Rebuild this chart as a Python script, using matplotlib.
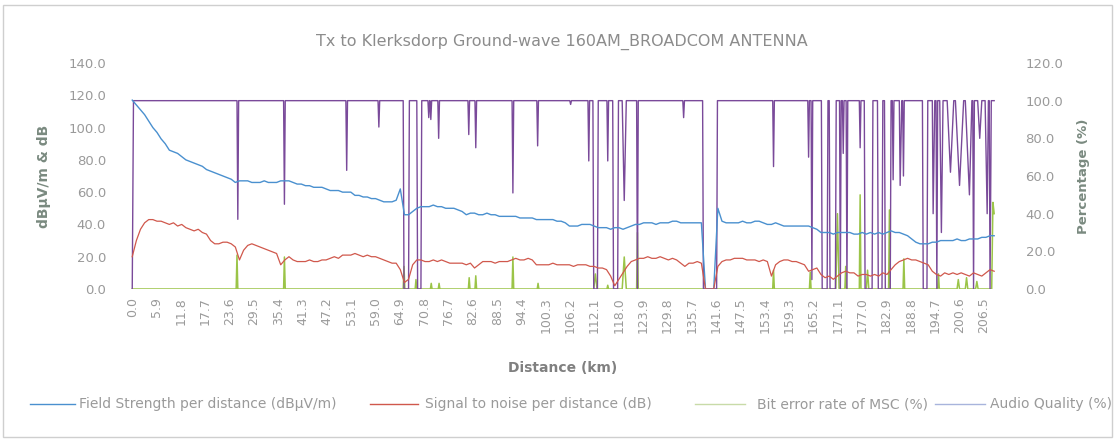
import numpy as np
import matplotlib
matplotlib.use("Agg")
import matplotlib.pyplot as plt
from matplotlib.lines import Line2D
from matplotlib.patches import Rectangle

# ---------------- data ----------------
title = "Tx to Klerksdorp Ground-wave 160AM_BROADCOM ANTENNA"

distance_km = list(range(0, 210))

field_strength = [
    117, 114, 111, 108, 104, 100, 97, 93, 90, 86,
    85, 84, 82, 80, 79, 78, 77, 76, 74, 73,
    72, 71, 70, 69, 68, 66, 67, 67, 67, 66,
    66, 66, 67, 66, 66, 66, 67, 67, 67, 66,
    65, 65, 64, 64, 63, 63, 63, 62, 61, 61,
    61, 60, 60, 60, 58, 58, 57, 57, 56, 56,
    55, 54, 54, 54, 55, 62, 46, 46, 48, 50,
    51, 51, 51, 52, 51, 51, 50, 50, 50, 49,
    48, 46, 47, 47, 46, 46, 47, 46, 46, 45,
    45, 45, 45, 45, 44, 44, 44, 44, 43, 43,
    43, 43, 43, 42, 42, 41, 39, 39, 39, 40,
    40, 40, 39, 38, 38, 38, 37, 38, 38, 37,
    38, 39, 40, 40, 41, 41, 41, 40, 41, 41,
    41, 42, 42, 41, 41, 41, 41, 41, 41, 0,
    0, 0, 50, 42, 41, 41, 41, 41, 42, 41,
    41, 42, 42, 41, 40, 40, 41, 40, 39, 39,
    39, 39, 39, 39, 39, 38, 37, 35, 35, 35,
    34, 35, 35, 35, 35, 34, 34, 35, 34, 35,
    34, 35, 34, 35, 36, 35, 35, 34, 33, 31,
    29, 28, 28, 28, 29, 29, 30, 30, 30, 30,
    31, 30, 30, 31, 31, 31, 32, 32, 33, 33,
]

signal_to_noise = [
    20, 30, 37, 41, 43, 43, 42, 42, 41, 40,
    41, 39, 40, 38, 37, 36, 37, 35, 34, 30,
    28, 28, 29, 29, 28, 26, 18, 24, 27, 28,
    27, 26, 25, 24, 23, 22, 15, 18, 20, 18,
    17, 17, 17, 18, 17, 17, 18, 18, 19, 20,
    19, 21, 21, 21, 22, 21, 20, 21, 20, 20,
    19, 18, 17, 16, 16, 12, 4, 6, 15, 18,
    18, 17, 17, 18, 17, 18, 17, 16, 16, 16,
    16, 15, 16, 13, 15, 17, 17, 17, 16, 17,
    17, 17, 18, 19, 18, 18, 19, 18, 15, 15,
    15, 15, 16, 15, 15, 15, 15, 14, 15, 15,
    15, 14, 14, 13, 13, 12, 8, 2, 6, 10,
    14, 17, 18, 19, 19, 20, 19, 19, 20, 19,
    18, 19, 18, 16, 14, 16, 16, 17, 16, 0,
    0, 0, 14, 17, 18, 18, 19, 19, 19, 18,
    18, 18, 17, 18, 17, 8, 15, 17, 18, 18,
    17, 17, 16, 15, 11, 12, 13, 9, 7, 8,
    6, 8, 10, 11, 10, 10, 8, 9, 9, 8,
    9, 8, 10, 9, 12, 15, 17, 18, 19, 18,
    18, 17, 16, 15, 11, 9, 8, 10, 9, 10,
    9, 10, 9, 8, 10, 9, 8, 10, 12, 11,
]

ber_km = [
    0.0, 25.2, 25.4, 25.6, 36.7, 36.9, 37.1, 65.7, 65.9, 66.1,
    68.6, 68.8, 69.0, 72.3, 72.5, 72.7, 74.2, 74.4, 74.6, 81.5,
    81.7, 81.9, 83.1, 83.3, 83.5, 92.1, 92.3, 92.5, 98.2, 98.4,
    98.6, 111.9, 112.3, 112.7, 115.1, 115.3, 115.5, 118.8, 119.3, 119.8,
    122.3, 122.5, 122.7, 155.3, 155.5, 155.7, 164.2, 164.4, 164.6, 170.6,
    171.0, 171.4, 172.8, 173.0, 173.2, 176.3, 176.5, 176.7, 178.0, 178.3,
    178.6, 183.4, 183.6, 183.8, 186.9, 187.1, 187.3, 195.3, 195.5, 195.7,
    200.0, 200.3, 200.6, 202.0, 202.3, 202.6, 204.5, 204.8, 205.1, 208.4,
    208.7, 209.0,
]
ber_pct = [
    0, 0, 18, 0, 0, 17, 0, 0, 12, 0,
    0, 5, 0, 0, 3, 0, 0, 3, 0, 0,
    6, 0, 0, 7, 0, 0, 17, 0, 0, 3,
    0, 0, 8, 0, 0, 2, 0, 0, 17, 0,
    0, 30, 0, 0, 10, 0, 0, 9, 0, 0,
    40, 0, 0, 12, 0, 0, 50, 0, 0, 10,
    0, 0, 42, 0, 0, 16, 0, 0, 8, 0,
    0, 5, 0, 0, 6, 0, 0, 4, 0, 0,
    46, 40,
]

audio_km = [
    0.0, 0.3,
    25.4, 25.6, 25.8, 36.7, 36.9, 37.1, 51.8, 52.0, 52.2,
    59.6, 59.8, 60.0, 65.7, 65.9, 67.0, 67.2, 69.0, 69.2, 70.0, 70.2,
    71.7, 71.9, 72.1, 72.2, 72.4, 72.6, 74.1, 74.3, 74.5,
    81.4, 81.6, 81.8, 83.1, 83.3, 83.5, 92.1, 92.3, 92.5,
    98.1, 98.3, 98.5, 106.1, 106.3, 106.5, 110.5, 110.7, 110.9,
    111.7, 111.9, 112.8, 113.0, 115.1, 115.3, 115.5,
    116.5, 116.7, 117.7, 117.9, 118.8, 119.3, 119.8,
    122.3, 122.5, 122.7, 133.5, 133.7, 133.9,
    138.3, 138.5, 141.7, 141.9, 155.3, 155.5, 155.7,
    163.8, 164.0, 164.2, 164.6, 164.8, 165.0,
    167.1, 167.3, 168.5, 168.7, 169.0, 169.2, 170.5, 170.7,
    171.5, 171.7, 171.9, 172.2, 172.4, 172.6, 173.1, 173.3, 173.5,
    176.3, 176.5, 176.7, 177.5, 177.7, 179.4, 179.6,
    180.7, 180.9, 181.8, 182.0, 182.4, 182.6, 183.8, 184.0,
    184.3, 184.5, 184.7, 186.0, 186.2, 186.6, 186.8, 187.0, 187.2,
    191.6, 191.8, 192.7, 192.9, 194.0, 194.2, 194.6, 194.9, 195.1, 195.3,
    195.8, 196.2, 196.6, 197.6, 198.4, 199.2, 199.6, 200.6, 201.6,
    202.0, 203.0, 203.6, 203.8, 204.0, 204.2, 205.0, 205.5, 206.0,
    206.8, 207.3, 207.6, 207.8, 208.0, 208.3, 209.0,
]
audio_pct = [
    0, 100,
    100, 37, 100, 100, 45, 100, 100, 63, 100,
    100, 86, 100, 100, 0, 0, 100, 100, 0, 0, 100,
    100, 91, 100, 100, 90, 100, 100, 80, 100,
    100, 82, 100, 100, 75, 100, 100, 51, 100,
    100, 76, 100, 100, 98, 100, 100, 68, 100,
    100, 0, 0, 100, 100, 68, 100,
    100, 0, 0, 100, 100, 47, 100,
    100, 0, 100, 100, 91, 100,
    100, 0, 0, 100, 100, 65, 100,
    100, 70, 100, 100, 5, 100,
    100, 0, 0, 100, 100, 0, 0, 100,
    100, 0, 100, 100, 72, 100, 100, 0, 100,
    100, 75, 100, 100, 0, 0, 100,
    100, 0, 0, 100, 100, 0, 0, 100,
    100, 58, 100, 100, 55, 100, 100, 60, 100,
    100, 0, 0, 100, 100, 40, 100, 100, 0, 100,
    100, 30, 100, 100, 62, 100, 100, 55, 100,
    100, 50, 100, 100, 0, 100, 100, 80, 100,
    100, 40, 100, 100, 0, 100, 100,
]

tick_km = [0.0, 5.9, 11.8, 17.7, 23.6, 29.5, 35.4, 41.3, 47.2, 53.1, 59.0,
           64.9, 70.8, 76.7, 82.6, 88.5, 94.4, 100.3, 106.2, 112.1, 118.0,
           123.9, 129.8, 135.7, 141.6, 147.5, 153.4, 159.3, 165.2, 171.1,
           177.0, 182.9, 188.8, 194.7, 200.6, 206.5]
tick_labels = [f"{v:.1f}" for v in tick_km]

left_ticks = [0, 20, 40, 60, 80, 100, 120, 140]
right_ticks = [0, 20, 40, 60, 80, 100, 120]

series_names = ["Field Strength per distance (dBµV/m)",
                "Signal to noise per distance (dB)",
                "Bit error rate of MSC (%)",
                "Audio Quality (%)"]

# ---------------- style ----------------
c_fs = "#4a90cf"
c_snr = "#d0584c"
c_ber = "#9bc448"
c_aq = "#7a4a9a"
txt = "#9a9a9a"

plt.rcParams['font.family'] = ['DejaVu Sans']

fig = plt.figure(figsize=(11.16, 4.41), dpi=100)
fig.patch.set_facecolor("white")
W, H = 1116, 441
L, R, T, B = 131, 995, 63, 289
ax = fig.add_axes([L / W, 1 - B / H, (R - L) / W, (B - T) / H])
ax2 = ax.twinx()

ax.plot(distance_km, field_strength, color=c_fs, lw=1.0, zorder=3)
ax.plot(distance_km, signal_to_noise, color=c_snr, lw=0.9, zorder=3)
ax2.plot(ber_km, ber_pct, color=c_ber, lw=1.1, zorder=2)
ax2.plot(audio_km, audio_pct, color=c_aq, lw=1.0, zorder=2)

ax.set_zorder(ax2.get_zorder() + 1)
ax.patch.set_visible(False)

ax.set_xlim(-0.3, 209.2)
ax.set_ylim(0, 140)
ax2.set_ylim(0, 120)
ax.set_yticks(left_ticks)
ax.set_yticklabels([f"{v:.1f}" for v in left_ticks])
ax2.set_yticks(right_ticks)
ax2.set_yticklabels([f"{v:.1f}" for v in right_ticks])
ax.set_xticks(tick_km)
ax.set_xticklabels(tick_labels, rotation=90)

for a in (ax, ax2):
    for s in a.spines.values():
        s.set_visible(False)
    a.tick_params(length=0, colors=txt, labelsize=9.5)
ax.tick_params(axis='y', pad=18)
ax2.tick_params(axis='y', pad=22)
ax.tick_params(axis='x', pad=6, labelsize=9)

ax.set_xlabel("Distance (km)", color="#808080", fontsize=10, fontweight="bold", labelpad=20)
ax.set_ylabel("dBµV/m & dB", color="#7a8a80", fontsize=10, fontweight="bold", labelpad=12)
ax2.set_ylabel("Percentage (%)", color="#7a8a80", fontsize=9.5, fontweight="bold", labelpad=10)

fig.text(562 / W, 1 - 42 / H, title, ha="center", va="center", color="#8c8c8c", fontsize=11.5)

# legend (manual layout)
leg_y = 1 - 404 / H
leg_items = [(30, 75, 79, c_fs), (370, 418, 425, c_snr),
             (695, 745, 757, "#c8dba8"), (935, 985, 990, "#a8b4dc")]
for (x0, x1, xt, col), name in zip(leg_items, series_names):
    fig.add_artist(Line2D([x0 / W, x1 / W], [leg_y, leg_y], color=col, lw=1.0,
                          transform=fig.transFigure))
    fig.text(xt / W, leg_y, name, ha="left", va="center", color=txt, fontsize=10)

fig.add_artist(Rectangle((3 / W, 4 / H), 1109 / W, 432 / H, transform=fig.transFigure,
                         fill=False, edgecolor="#cfcfcf", lw=1.0))

fig.savefig("out.png", dpi=100, facecolor="white")
